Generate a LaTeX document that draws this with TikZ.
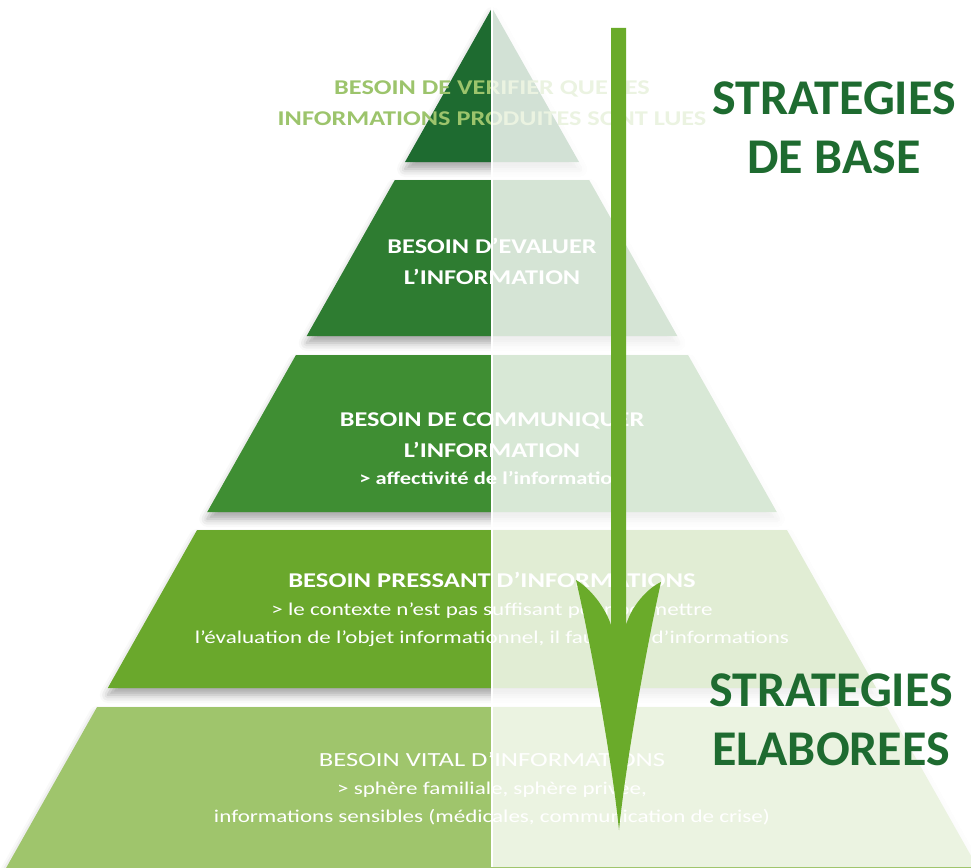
\documentclass[tikz,border=0pt]{standalone}
\usepackage{fontspec}
\setmainfont{Carlito}
\usetikzlibrary{shadows.blur}
\definecolor{lvlA}{HTML}{1E6B30}
\definecolor{lvlB}{HTML}{2E7C31}
\definecolor{lvlC}{HTML}{3F8E33}
\definecolor{lvlD}{HTML}{6AA82C}
\definecolor{lvlE}{HTML}{9FC56C}
\definecolor{arrowgreen}{HTML}{6AAB2A}
\definecolor{topgreen}{HTML}{9CC46C}
\begin{document}
\begin{tikzpicture}[x=1pt,y=-1pt,
    level/.style={blur shadow={shadow xshift=0pt,shadow yshift=-7pt,shadow blur radius=8pt,shadow opacity=35}},
    head/.style={text=white,align=center,inner sep=0pt,xscale=1.25,
      font=\bfseries\fontsize{21}{31}\selectfont},
    small/.style={text=white,align=center,inner sep=0pt,xscale=1.28,
      font=\fontsize{18}{28}\selectfont},
    strat/.style={text=lvlA,align=center,inner sep=0pt,
      font=\bfseries\fontsize{50}{59}\selectfont}]
  \useasboundingbox (0,0) rectangle (971,867);
  \clip (0,0) rectangle (971,867);
  \pgfmathsetmacro{\slope}{0.565}
  % levels of the pyramid
  \foreach \ya/\yb/\col in {8/162/lvlA,180/336/lvlB,355/512/lvlC,530/688/lvlD,707/890/lvlE}{
    \pgfmathsetmacro{\xa}{\slope*(\ya-8)}
    \pgfmathsetmacro{\xb}{\slope*(\yb-8)}
    \fill[\col,level] (492-\xa,\ya) -- (492+\xa,\ya) -- (492+\xb,\yb) -- (492-\xb,\yb) -- cycle;
  }
  % texts
  \node[head,text=topgreen] (verifier) at (492,103) {BESOIN DE VERIFIER QUE LES\\INFORMATIONS PRODUITES SONT LUES};
  \node[head] (evaluer) at (492,261) {BESOIN D’EVALUER\\L’INFORMATION};
  \node[head] (communiquer) at (492,449) {BESOIN DE COMMUNIQUER\\L’INFORMATION\\[-4pt]
    {\fontsize{18}{20}\selectfont > affectivité de l’information}};
  \node[small] (pressant) at (492,609) {{\bfseries\fontsize{21}{28}\selectfont\scalebox{0.99}[1]{BESOIN PRESSANT D’INFORMATIONS}}\\
    > le contexte n’est pas suffisant pour permettre\\
    l’évaluation de l’objet informationnel, il faut plus d’informations};
  \node[small] (vital) at (492,789) {{\fontsize{20}{28}\selectfont\scalebox{1.04}[1]{BESOIN VITAL D’INFORMATIONS}}\\
    > sphère familiale, sphère privée,\\
    informations sensibles (médicales, communication de crise)};
  % right half veiled
  \draw[white,line width=2pt] (492,0) -- (492,867);
  \fill[white,opacity=0.8] (492,0) rectangle (971,867);
  % arrow
  \coordinate (start) at (618,28);
  \coordinate (tip) at (619,830);
  \fill[arrowgreen] (611,28) -- (611,625) .. controls (605,607) and (590,588) .. (576,580)
    .. controls (590,640) and (612,760) .. (tip)
    .. controls (626,760) and (648,640) .. (661,582)
    .. controls (648,588) and (632,605) .. (626,625) -- (626,28) -- cycle;
  \node[strat] (base) at (834,128) {STRATEGIES\\DE BASE};
  \node[strat] (elaborees) at (831,720) {STRATEGIES\\ELABOREES};
\end{tikzpicture}
\end{document}
